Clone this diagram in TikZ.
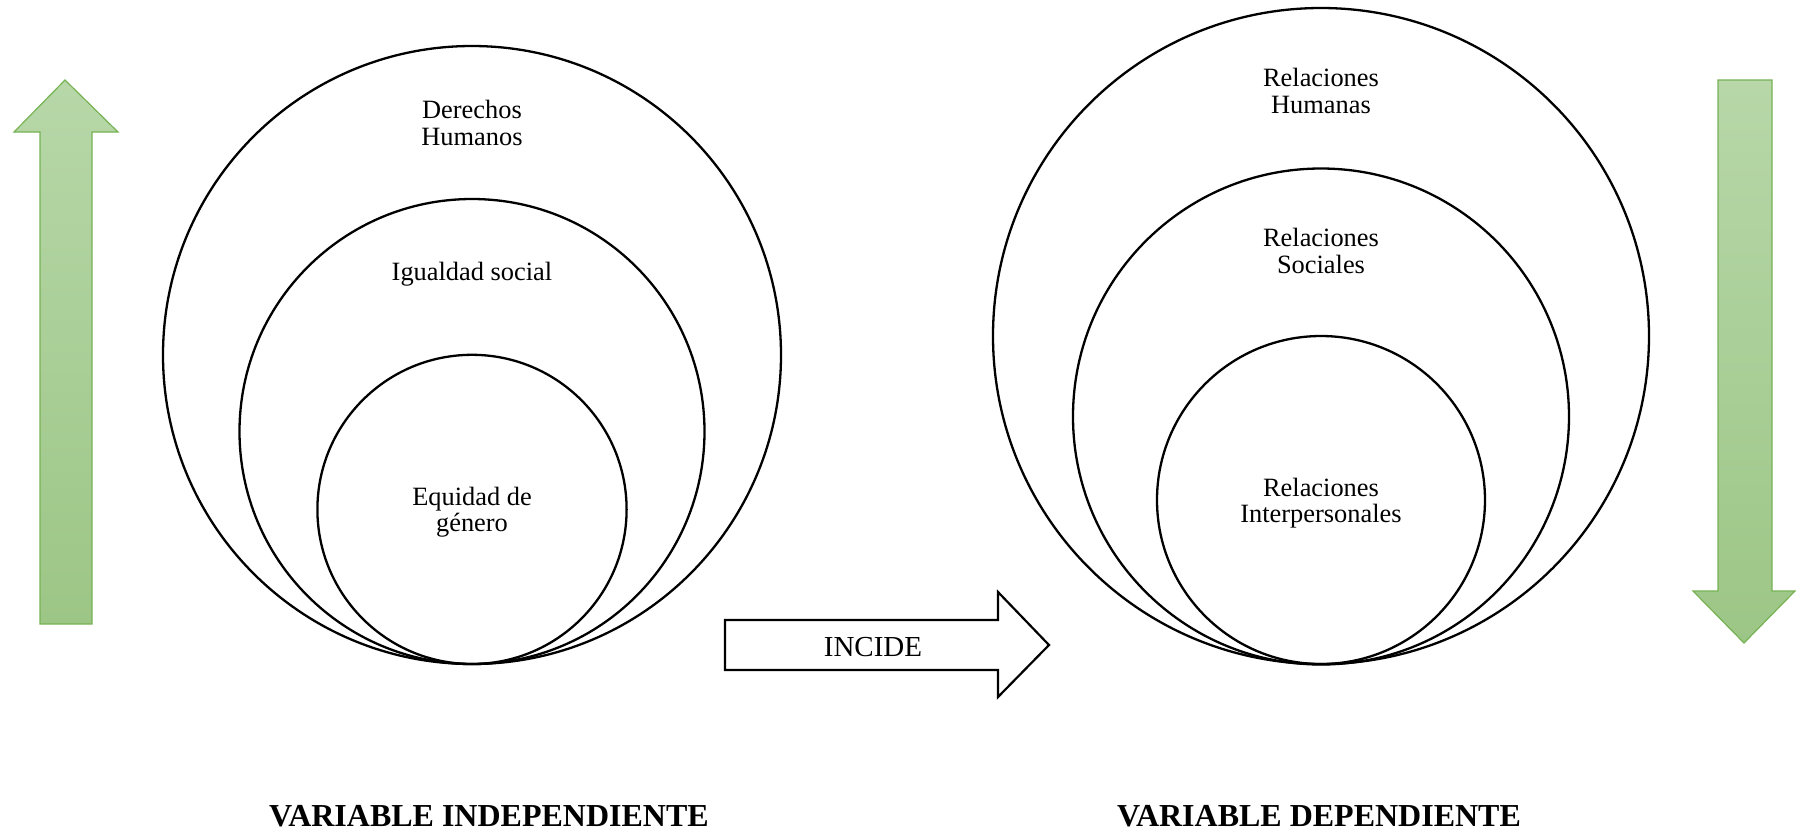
\documentclass[tikz,border=0pt]{standalone}
\usepackage{fontspec}
\setmainfont{Liberation Serif}
\definecolor{arrowtop}{HTML}{B7D7A8}
\definecolor{arrowbot}{HTML}{9CC686}
\definecolor{arrowline}{HTML}{77B255}
\tikzset{
    ring/.style={draw, circle, line width=1.15pt, inner sep=0pt},
    lbl/.style={align=center, font=\fontsize{13.2}{13.3}\selectfont},
    varlbl/.style={font=\bfseries\fontsize{16}{16}\selectfont},
    greenarrow/.style={top color=arrowtop, bottom color=arrowbot, draw=arrowline, line width=0.6pt}
}
\begin{document}
\begin{tikzpicture}[x=0.5pt,y=-0.5pt]
    \useasboundingbox (0,0) rectangle (1796,832);
    % green arrows at the sides
    \shade[greenarrow] (40,624) -- (40,132) -- (14,132) -- (65,80) -- (118,132) -- (92,132) -- (92,624) -- cycle;
    \shade[greenarrow] (1718,80) -- (1772,80) -- (1772,591) -- (1795,591) -- (1744,643) -- (1693,591) -- (1718,591) -- cycle;
    % independent variable
    \node[ring, minimum size=309pt] (derechos) at (472,355) {};
    \node[ring, minimum size=232.5pt] (igualdad) at (472,431.5) {};
    \node[ring, minimum size=154.6pt] (equidad) at (472,509.4) {};
    \node[lbl] (derechosL) at (472,123) {Derechos\\Humanos};
    \node[lbl] (igualdadL) at (472,274) {Igualdad social};
    \node[lbl] (equidadL) at (472,512) {Equidad de\\género};
    % dependent variable
    \node[ring, minimum size=328pt] (humanas) at (1321,336) {};
    \node[ring, minimum size=248pt] (sociales) at (1321,416.5) {};
    \node[ring, minimum size=164pt] (interp) at (1321,500) {};
    \node[lbl] (humanasL) at (1321,91) {Relaciones\\Humanas};
    \node[lbl] (socialesL) at (1321,251) {Relaciones\\Sociales};
    \node[lbl] (interpL) at (1321,503) {Relaciones\\Interpersonales};
    % incide arrow
    \draw[line width=1.1pt, fill=white] (725,620) -- (998,620) -- (998,592) -- (1049,645) -- (998,697) -- (998,670) -- (725,670) -- cycle;
    \node[font=\fontsize{14.5}{14.5}\selectfont] (incide) at (873,647) {INCIDE};
    % labels
    \node[varlbl] (indep) at (489,816) {VARIABLE INDEPENDIENTE};
    \node[varlbl] (dep) at (1319,816) {VARIABLE DEPENDIENTE};
\end{tikzpicture}
\end{document}
